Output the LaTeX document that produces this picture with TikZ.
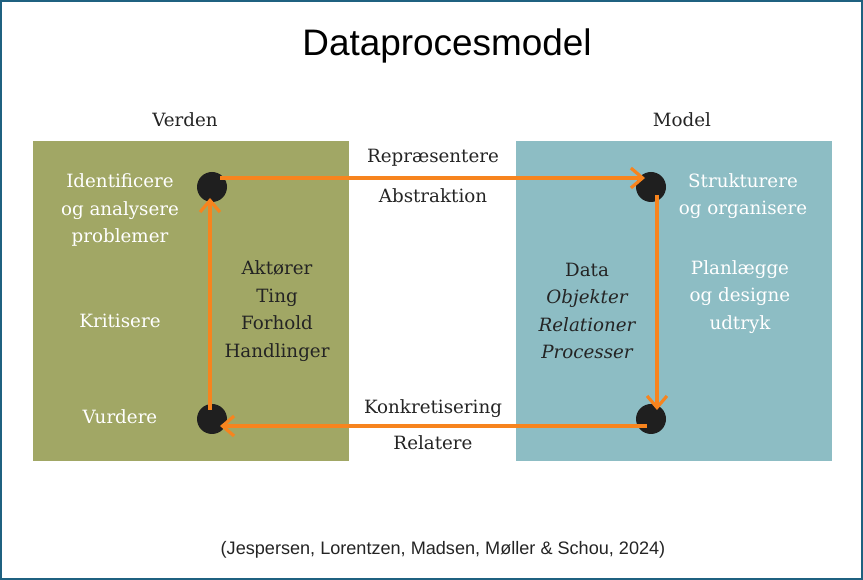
\documentclass[tikz,border=0pt]{standalone}
\usepackage{fontspec}
\setmainfont{DejaVu Serif}
\setsansfont{Liberation Sans}
\usetikzlibrary{arrows.meta,positioning}
\definecolor{verdengreen}{RGB}{161,167,101}
\definecolor{modelblue}{RGB}{141,189,196}
\definecolor{floworange}{RGB}{247,132,30}
\definecolor{frameblue}{RGB}{31,97,128}
\definecolor{inktext}{RGB}{36,36,36}
\newcommand\Px{0.02cm}
\tikzset{
  field/.style={
    shape = rectangle,
    inner sep = 0pt,
    minimum width = 316*\Px,
    minimum height = 320*\Px
  },
  blob/.style={
    shape = circle,
    inner sep = 0pt,
    minimum size = 30*\Px,
    fill = black!88
  },
  flow/.style={
    draw = floworange,
    line width = 1.8pt,
    -{Straight Barb[length=6.6pt,width=11.3pt]}
  },
  serifs/.style={
    font = \fontsize{10.4pt}{15.6pt}\selectfont,
    align = center,
    inner sep = 0pt
  },
  whitelbl/.style={
    serifs,
    text = white
  },
  darklbl/.style={
    serifs,
    text = inktext
  }
}

\begin{document}
\begin{tikzpicture}[x=\Px,y=-\Px]
  \useasboundingbox (0,0) rectangle (863,580);
  \draw[frameblue, line width=1.4pt] (1.2,1.2) rectangle (861.8,578.8);

  \node[font=\sffamily\fontsize{21pt}{24pt}\selectfont] (title) at (447,46) {Dataprocesmodel};

  % the two fields
  \node[field, fill=verdengreen] (verden) at (191,301) {};
  \node[field, fill=modelblue] (model) at (674,301) {};

  \node[darklbl] (verdenlbl) at (185,120) {Verden};
  \node[darklbl] (modellbl) at (682,120) {Model};

  % corner dots
  \node[blob] (vtop) at (212,187) {};
  \node[blob] (vbot) at (212,419) {};
  \node[blob] (mtop) at (651,187) {};
  \node[blob] (mbot) at (651,419) {};

  \draw[flow] ([shift={(8,-9)}]vtop.center) -- ([shift={(-6,-9)}]mtop.center);
  \draw[flow] ([shift={(6,8)}]mtop.center) -- ([shift={(6,-9)}]mbot.center);
  \draw[flow] ([shift={(-4,7)}]mbot.center) -- ([shift={(8,7)}]vbot.center);
  \draw[flow] ([shift={(-2,-9)}]vbot.center) -- ([shift={(-2,11)}]vtop.center);

  % texts in Verden
  \node[whitelbl] (ident) at (120,210) {Identificere\\og analysere\\problemer};
  \node[whitelbl] (krit) at (120,321) {Kritisere};
  \node[whitelbl] (vurd) at (120,417) {Vurdere};
  \node[darklbl] (aktor) at (277,311) {Aktører\\Ting\\Forhold\\Handlinger};

  % texts in Model
  \node[darklbl] (data) at (587,311) {Data\\\itshape Objekter\\\itshape Relationer\\\itshape Processer};
  \node[whitelbl] (struk) at (743,196) {Strukturere\\og organisere};
  \node[whitelbl] (plan) at (740,297) {Planlægge\\og designe\\udtryk};

  % texts between
  \node[darklbl] (repr) at (433,158) {Repræsentere};
  \node[darklbl] (abstr) at (433,196) {Abstraktion};
  \node[darklbl] (konkr) at (433,409) {Konkretisering};
  \node[darklbl] (relat) at (433,443) {Relatere};

  \node[font=\sffamily\fontsize{10.3pt}{12pt}\selectfont, text=inktext] (kilde) at (443,550) {(Jespersen, Lorentzen, Madsen, Møller \& Schou, 2024)};
\end{tikzpicture}
\end{document}
